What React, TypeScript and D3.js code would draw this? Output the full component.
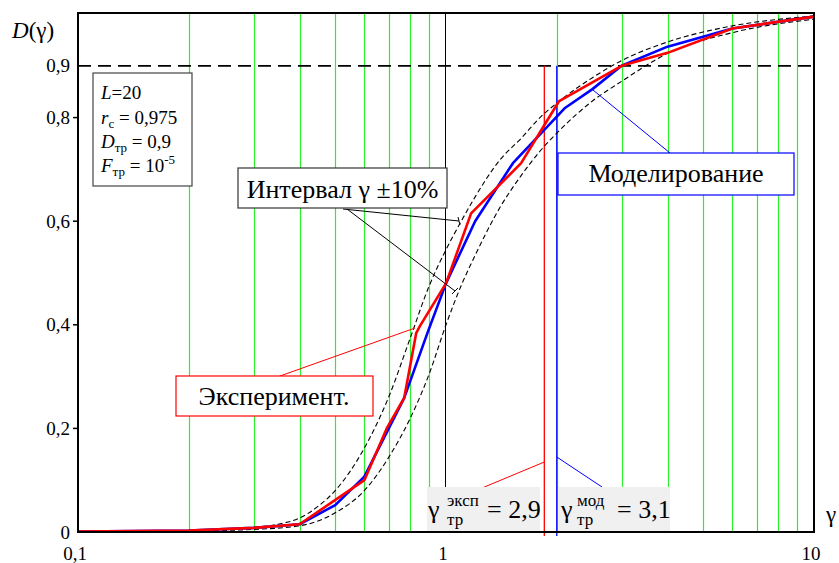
import { useEffect, useRef } from "react";
import * as d3 from "d3";

// ---------- DATA ----------
const gridGammas = [0.2, 0.3, 0.4, 0.5, 0.6, 0.7, 0.8, 0.9, 2, 3, 4, 5, 6, 7, 8, 9];
const xTickValues = [0.1, 1, 10];
const xTickLabels = ["0,1", "1", "10"];
const yTickValues = [0, 0.2, 0.4, 0.6, 0.8, 0.9];
const yTickLabels = ["0", "0,2", "0,4", "0,6", "0,8", "0,9"];

// model (blue)
const gammaModel = [0.1, 0.2, 0.3, 0.4, 0.5, 0.6, 0.77, 0.89, 1.0, 1.2, 1.52, 2.1, 2.5, 3.0, 4.0, 6.0, 10];
const dModel = [0.001, 0.003, 0.008, 0.015, 0.052, 0.107, 0.259, 0.384, 0.48, 0.6, 0.712, 0.818, 0.855, 0.9, 0.937, 0.972, 0.995];

// experiment (red)
const gammaExp = [0.1, 0.2, 0.3, 0.4, 0.6, 0.69, 0.77, 0.83, 0.85, 1.0, 1.17, 1.6, 1.83, 2.03, 3.0, 4.0, 6.0, 10];
const dExp = [0.001, 0.003, 0.008, 0.015, 0.1, 0.2, 0.259, 0.384, 0.398, 0.48, 0.615, 0.712, 0.78, 0.832, 0.9, 0.925, 0.972, 0.995];

// interval gamma +-10% (dashed)
const gammaUpper = [0.1, 0.2, 0.3, 0.35, 0.4, 0.45, 0.5, 0.6, 0.7, 0.8, 0.9, 1.0, 1.1, 1.2, 1.4, 1.6, 1.8, 2.0, 2.5, 3.0, 4.0, 6.0, 10];
const dUpper = [0.001, 0.003, 0.009, 0.015, 0.027, 0.05, 0.08, 0.162, 0.262, 0.375, 0.475, 0.545, 0.6, 0.647, 0.718, 0.76, 0.8, 0.828, 0.877, 0.91, 0.946, 0.977, 0.996];
const gammaLower = [0.1, 0.2, 0.3, 0.4, 0.5, 0.6, 0.7, 0.8, 0.9, 1.0, 1.1, 1.2, 1.4, 1.6, 1.8, 2.0, 2.5, 3.0, 4.0, 6.0, 10];
const dLower = [0.0005, 0.002, 0.005, 0.012, 0.037, 0.08, 0.145, 0.22, 0.305, 0.4, 0.476, 0.534, 0.626, 0.688, 0.735, 0.77, 0.832, 0.87, 0.924, 0.964, 0.99];

const levelD = 0.9;
const gammaThrExp = 1.85;
const gammaThrMod = 2.0;

const FF = "Liberation Serif";

export default function App() {
  const W = 839, H = 563;
  const left = 78, right = 814, top = 13, bottom = 532;
  const svgRef = useRef<SVGSVGElement>(null);

  const x = d3.scaleLog().domain([0.1, 10]).range([left, right]);
  const y = d3.scaleLinear().domain([0, 1]).range([bottom, 14]);

  const pts = (gs: number[], ds: number[]) => gs.map((g, i) => [g, ds[i]] as [number, number]);
  const line = d3.line<[number, number]>().x(d => x(d[0])).y(d => y(d[1]));
  const smooth = d3.line<[number, number]>().x(d => x(d[0])).y(d => y(d[1])).curve(d3.curveMonotoneX);

  // axis labels drawn with d3
  useEffect(() => {
    const svg = d3.select(svgRef.current);
    const g = svg.select("g.axes");
    g.selectAll("*").remove();

    yTickValues.forEach((v, i) => {
      if (v > 0 && v < 0.9) {
        g.append("line").attr("x1", left - 5).attr("x2", left).attr("y1", y(v)).attr("y2", y(v))
          .attr("stroke", "#000").attr("stroke-width", 1.5);
      }
      g.append("text").attr("x", 70).attr("y", y(v)).attr("dy", "0.35em")
        .attr("font-size", 19).attr("text-anchor", "end")
        .style("font-family", FF).text(yTickLabels[i]);
    });
    xTickValues.forEach((v, i) => {
      g.append("text").attr("x", x(v) - 3).attr("y", 560)
        .attr("font-size", 19).attr("text-anchor", "middle")
        .style("font-family", FF).text(xTickLabels[i]);
    });
  }, []);

  return (
    <svg ref={svgRef} width={W} height={H} style={{ position: "absolute", left: 0, top: 0, background: "#fff" }}>
      <style>{`text { font-family: "Liberation Serif", "Times New Roman", serif; }`}</style>
      {/* green grid */}
      {gridGammas.map(g => (
        <line key={g} x1={Math.round(x(g)) + 0.5} x2={Math.round(x(g)) + 0.5} y1={top} y2={bottom} stroke="#2cf02c" strokeWidth={1.2} />
      ))}
      <line x1={x(1) - 0.5} x2={x(1) - 0.5} y1={top} y2={bottom} stroke="#000" strokeWidth={1} />

      {/* 0.9 level */}
      <line x1={left} x2={right} y1={y(levelD)} y2={y(levelD)} stroke="#000" strokeWidth={1.8} strokeDasharray="13,7" />

      {/* thresholds */}
      <line x1={x(gammaThrExp)} x2={x(gammaThrExp)} y1={y(levelD)} y2={bottom + 4} stroke="#ff0000" strokeWidth={1.3} />
      <line x1={x(gammaThrMod)} x2={x(gammaThrMod)} y1={y(levelD)} y2={bottom + 4} stroke="#0000ff" strokeWidth={1.3} />

      {/* interval curves */}
      <path d={smooth(pts(gammaUpper, dUpper)) || ""} fill="none" stroke="#000" strokeWidth={1.1} strokeDasharray="5,3" />
      <path d={smooth(pts(gammaLower, dLower)) || ""} fill="none" stroke="#000" strokeWidth={1.1} strokeDasharray="5,3" />

      {/* model & experiment */}
      <path d={line(pts(gammaModel, dModel)) || ""} fill="none" stroke="#0000ff" strokeWidth={2.6} strokeLinejoin="round" />
      <path d={line(pts(gammaExp, dExp)) || ""} fill="none" stroke="#ff0000" strokeWidth={2.6} strokeLinejoin="round" />

      {/* leader lines */}
      <line x1={343} y1={209} x2={459} y2={221} stroke="#000" strokeWidth={1} />
      <line x1={347} y1={209} x2={455} y2={291} stroke="#000" strokeWidth={1} />
      <line x1={458} y1={217} x2={460} y2={225} stroke="#000" strokeWidth={1} />
      <line x1={452} y1={294} x2={458} y2={288} stroke="#000" strokeWidth={1} />
      <line x1={593} y1={90} x2={670} y2={153} stroke="#0000ff" strokeWidth={1} />
      <line x1={280} y1={376} x2={415} y2={328} stroke="#ff0000" strokeWidth={1} />
      <line x1={482} y1={488} x2={x(gammaThrExp)} y2={462} stroke="#ff0000" strokeWidth={1} />
      <line x1={x(gammaThrMod)} y1={457} x2={602} y2={487} stroke="#0000ff" strokeWidth={1} />

      {/* parameter box */}
      <rect x={93} y={73} width={99} height={113} fill="#fff" stroke="#444" strokeWidth={1.2} />
      <g fontSize={19}>
        <text x={101} y={99}><tspan fontStyle="italic">L</tspan>=20</text>
        <text x={101} y={124}><tspan fontStyle="italic">r</tspan><tspan fontSize={13} dy={4}>с</tspan><tspan dy={-4}> = 0,975</tspan></text>
        <text x={101} y={148}><tspan fontStyle="italic">D</tspan><tspan fontSize={13} dy={4}>тр</tspan><tspan dy={-4}> = 0,9</tspan></text>
        <text x={101} y={172}><tspan fontStyle="italic">F</tspan><tspan fontSize={13} dy={4}>тр</tspan><tspan dy={-4}> = 10</tspan><tspan fontSize={13} dy={-8}>-5</tspan></text>
      </g>

      {/* interval box */}
      <rect x={238} y={168} width={209} height={40} fill="#fff" stroke="#333" strokeWidth={1.2} />
      <text x={342.5} y={198} fontSize={26} textAnchor="middle">Интервал γ ±10%</text>

      {/* model box */}
      <rect x={558} y={153} width={236} height={42} fill="#fff" stroke="#0000ff" strokeWidth={1.2} />
      <text x={676} y={182} fontSize={26} textAnchor="middle">Моделирование</text>

      {/* experiment box */}
      <rect x={176} y={376} width={197} height={40} fill="#fff" stroke="#ff0000" strokeWidth={1.2} />
      <text x={274} y={405} fontSize={26} textAnchor="middle">Эксперимент.</text>

      {/* threshold labels */}
      <rect x={427} y={487} width={113} height={45} fill="#f0f0f0" />
      <text x={428} y={518} fontSize={26}>γ</text>
      <text x={447} y={506} fontSize={17}>эксп</text>
      <text x={447} y={525} fontSize={17}>тр</text>
      <text x={487} y={518} fontSize={26}>= 2,9</text>

      <rect x={558} y={487} width={112} height={45} fill="#f0f0f0" />
      <text x={561} y={518} fontSize={26}>γ</text>
      <text x={577} y={506} fontSize={17}>мод</text>
      <text x={577} y={525} fontSize={17}>тр</text>
      <text x={617} y={518} fontSize={26}>= 3,1</text>

      {/* frame */}
      <rect x={left} y={top} width={right - left} height={bottom - top} fill="none" stroke="#000" strokeWidth={2} />

      <g className="axes" />

      <text x={12} y={38} fontSize={23}><tspan fontStyle="italic">D</tspan>(γ)</text>
      <text x={826} y={522} fontSize={23}>γ</text>
    </svg>
  );
}
